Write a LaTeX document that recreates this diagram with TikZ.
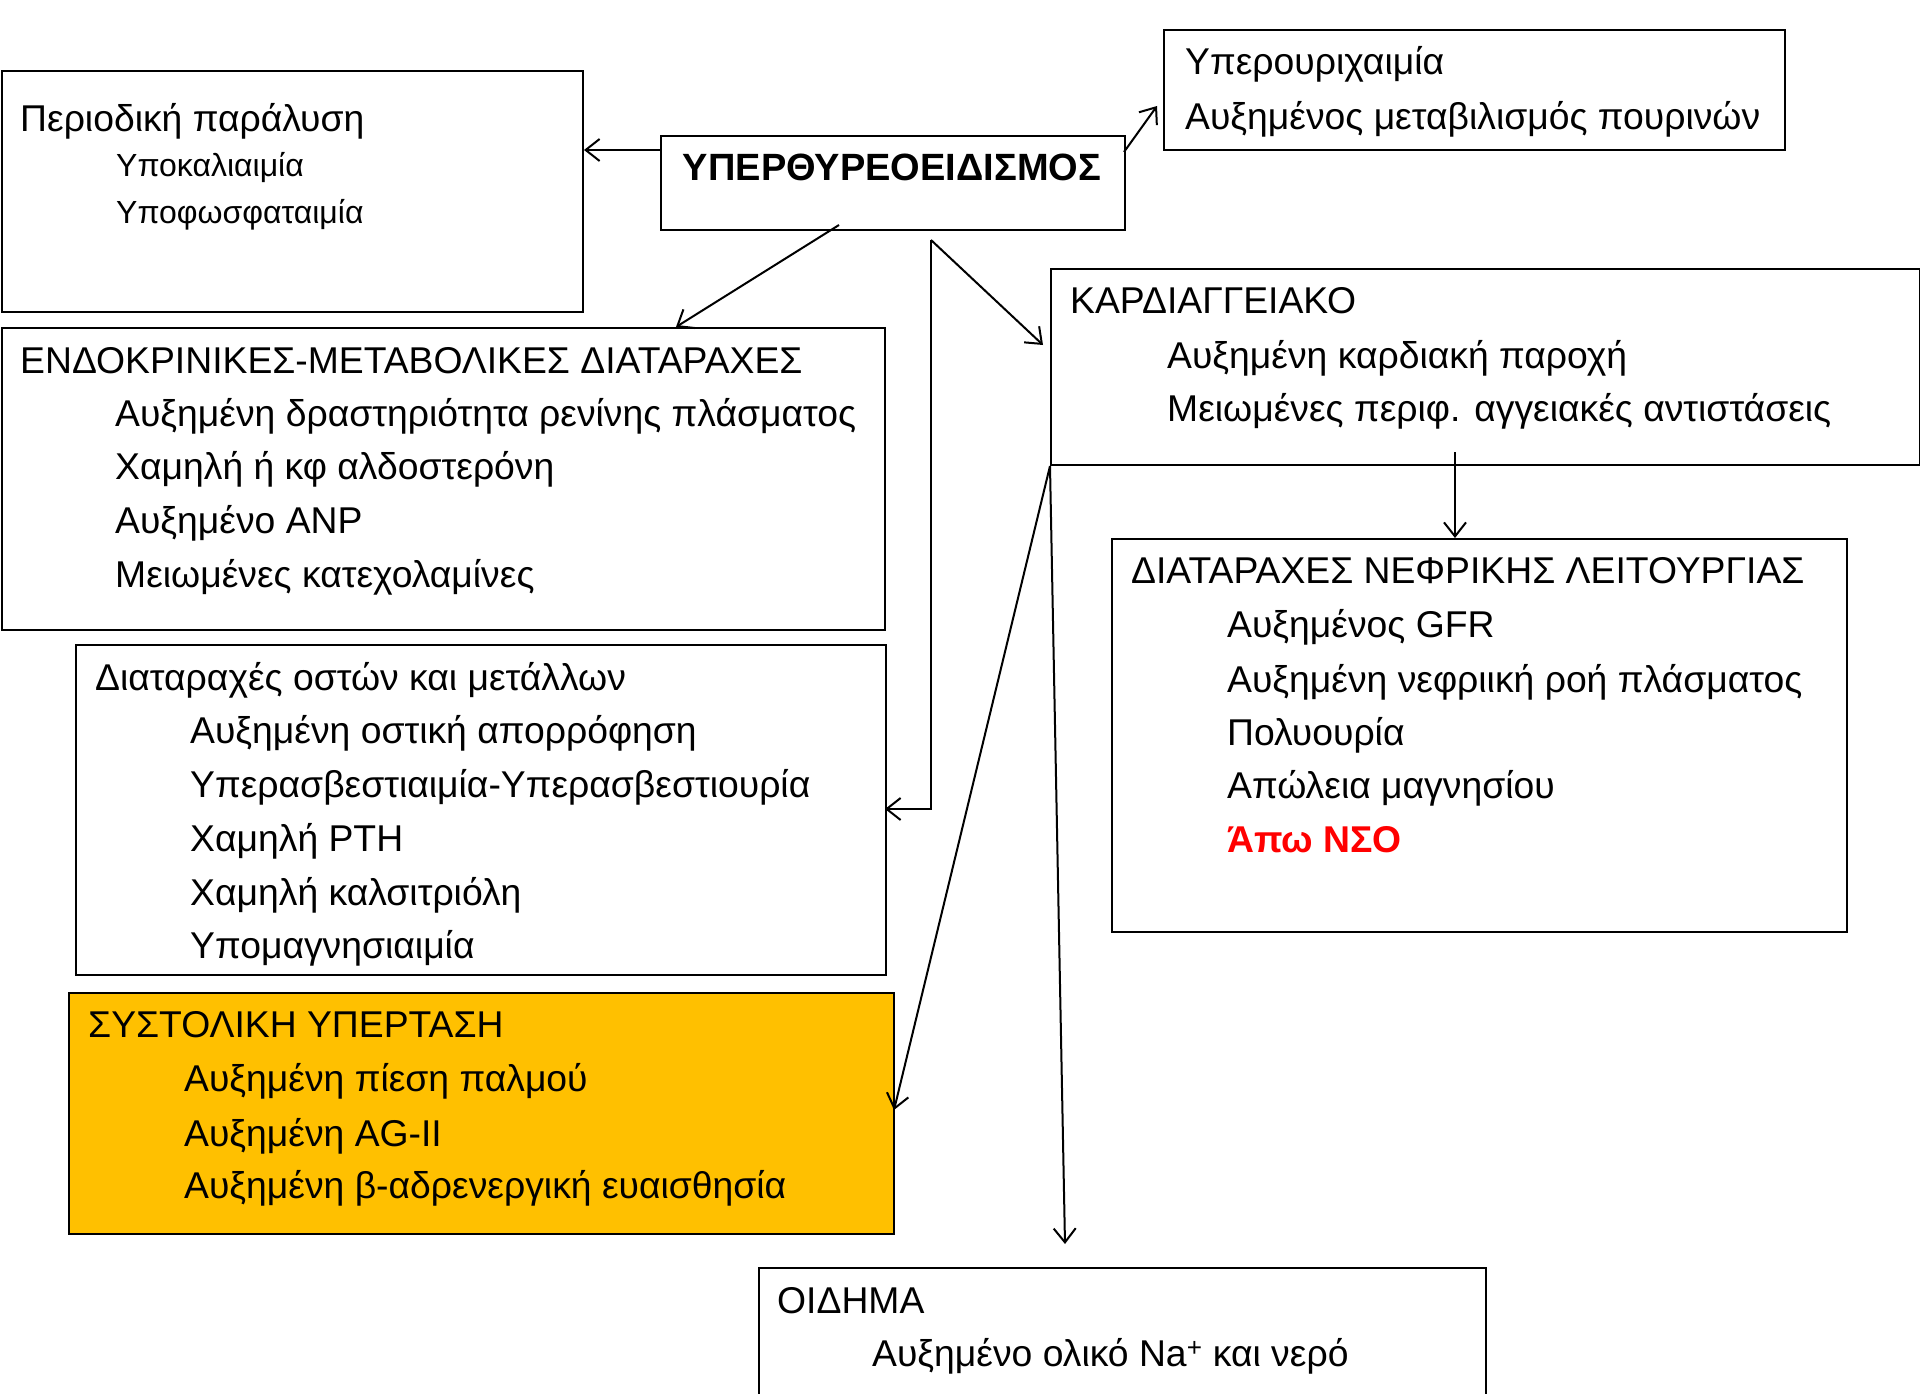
\documentclass[tikz,border=0pt]{standalone}
\usepackage{fontspec}
\setmainfont{Liberation Sans}
\usetikzlibrary{arrows.meta}

\definecolor{boxorange}{HTML}{FFC000}
\definecolor{nsored}{HTML}{FF0000}

\begin{document}
\begin{tikzpicture}[x=1pt, y=-1pt,
    box/.style = {draw, line width=2pt, anchor=north west, inner sep=0pt},
    line/.style = {anchor=base west, inner sep=0pt, font=\fontsize{37.3}{44}\selectfont},
    small/.style = {anchor=base west, inner sep=0pt, font=\fontsize{32}{38}\selectfont},
    arr/.style = {line width=2pt, -{Straight Barb[length=14pt, width=22pt]}}]
    \useasboundingbox (0,0) rectangle (1920,1394);

    % boxes
    \node[box, minimum width=581, minimum height=241] (paral) at (1,70) {};
    \node[box, minimum width=464, minimum height=94] (hyper) at (660,135) {};
    \node[box, minimum width=621, minimum height=120] (urik) at (1163,29) {};
    \node[box, minimum width=883, minimum height=302] (endo) at (1,327) {};
    \node[box, minimum width=869, minimum height=196] (kardio) at (1050,268) {};
    \node[box, minimum width=810, minimum height=330] (osta) at (75,644) {};
    \node[box, minimum width=735, minimum height=393] (nefro) at (1111,538) {};
    \node[box, fill=boxorange, minimum width=825, minimum height=241] (systol) at (68,992) {};
    \node[box, minimum width=727, minimum height=130] (oidima) at (758,1267) {};

    % texts
    \node[line, anchor=base, font=\fontsize{38}{44}\selectfont\bfseries] (hyper-t) at (892,180) {ΥΠΕΡΘΥΡΕΟΕΙΔΙΣΜΟΣ};

    \node[line] (paral-1) at (20,132) {Περιοδική παράλυση};
    \node[small] (paral-2) at (116,177) {Υποκαλιαιμία};
    \node[small] (paral-3) at (116,223) {Υποφωσφαταιμία};

    \node[line] (urik-1) at (1185,75) {Υπερουριχαιμία};
    \node[line] (urik-2) at (1185,130) {Αυξημένος μεταβιλισμός πουρινών};

    \node[line] (endo-1) at (20,373) {ΕΝΔΟΚΡΙΝΙΚΕΣ-ΜΕΤΑΒΟΛΙΚΕΣ ΔΙΑΤΑΡΑΧΕΣ};
    \node[line] (endo-2) at (115,426) {Αυξημένη δραστηριότητα ρενίνης πλάσματος};
    \node[line] (endo-3) at (115,479) {Χαμηλή ή κφ αλδοστερόνη};
    \node[line] (endo-4) at (115,533) {Αυξημένο ANP};
    \node[line] (endo-5) at (115,587) {Μειωμένες κατεχολαμίνες};

    \node[line] (kardio-1) at (1070,313) {ΚΑΡΔΙΑΓΓΕΙΑΚΟ};
    \node[line] (kardio-2) at (1167,368) {Αυξημένη καρδιακή παροχή};
    \node[line] (kardio-3) at (1167,421) {Μειωμένες περιφ. αγγειακές αντιστάσεις};

    \node[line] (osta-1) at (95,690) {Διαταραχές οστών και μετάλλων};
    \node[line] (osta-2) at (190,743) {Αυξημένη οστική απορρόφηση};
    \node[line] (osta-3) at (190,797) {Υπερασβεστιαιμία-Υπερασβεστιουρία};
    \node[line] (osta-4) at (190,851) {Χαμηλή PTH};
    \node[line] (osta-5) at (190,905) {Χαμηλή καλσιτριόλη};
    \node[line] (osta-6) at (190,958) {Υπομαγνησιαιμία};

    \node[line] (nefro-1) at (1131,583) {ΔΙΑΤΑΡΑΧΕΣ ΝΕΦΡΙΚΗΣ ΛΕΙΤΟΥΡΓΙΑΣ};
    \node[line] (nefro-2) at (1227,637) {Αυξημένος GFR};
    \node[line] (nefro-3) at (1227,692) {Αυξημένη νεφριική ροή πλάσματος};
    \node[line] (nefro-4) at (1227,745) {Πολυουρία};
    \node[line] (nefro-5) at (1227,798) {Απώλεια μαγνησίου};
    \node[line, text=nsored, font=\fontsize{37.3}{44}\selectfont\bfseries] (nefro-6) at (1227,852) {Άπω ΝΣΟ};

    \node[line] (systol-1) at (88,1037) {ΣΥΣΤΟΛΙΚΗ ΥΠΕΡΤΑΣΗ};
    \node[line] (systol-2) at (184,1091) {Αυξημένη πίεση παλμού};
    \node[line] (systol-3) at (184,1146) {Αυξημένη AG-II};
    \node[line] (systol-4) at (184,1198) {Αυξημένη β-αδρενεργική ευαισθησία};

    \node[line] (oidima-1) at (777,1313) {ΟΙΔΗΜΑ};
    \node[line] (oidima-2) at (872,1366) {Αυξημένο ολικό Na\textsuperscript{+} και νερό};

    % connectors
    \coordinate (o-left) at (660,150);
    \coordinate (o-up) at (1124,152);
    \coordinate (urik-in) at (1157,106);
    \coordinate (o-down) at (839,225);
    \coordinate (endo-in) at (676,327);
    \coordinate (split) at (931,240);
    \coordinate (kardio-in) at (1043,345);
    \coordinate (osta-in) at (885,809);
    \coordinate (kardio-out) at (1455,452);
    \coordinate (systol-in) at (894,1110);
    \coordinate (oidima-in) at (1065,1244);

    \draw[arr] (o-left) -- (o-left -| paral.east);
    \draw[arr] (o-up) -- (urik-in);
    \draw[arr] (o-down) -- (endo-in);
    \draw[arr] (split) -- (kardio-in);
    \draw[arr] (split) |- (osta-in);
    \draw[arr] (kardio-out) -- (kardio-out |- nefro.north);
    \draw[arr] (kardio.south west) -- (systol-in);
    \draw[arr] (kardio.south west) -- (oidima-in);
\end{tikzpicture}
\end{document}
